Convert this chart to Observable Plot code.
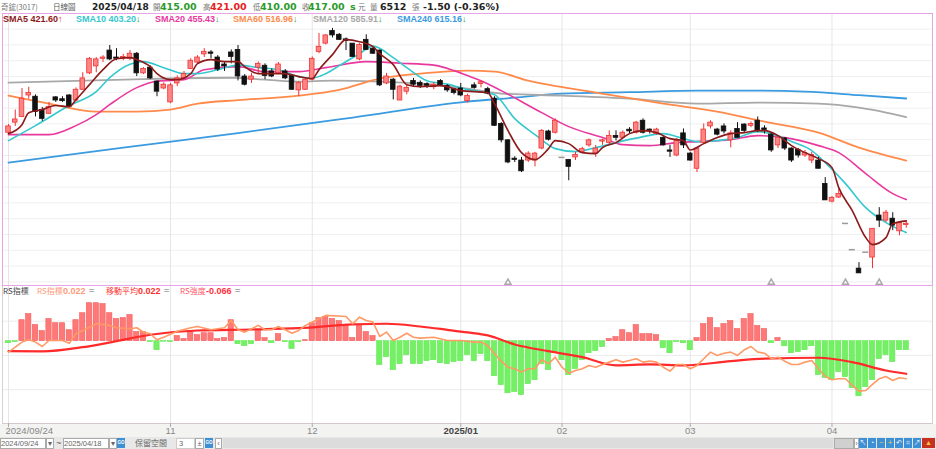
<!DOCTYPE html>
<html>
<head>
<meta charset="utf-8">
<script src="https://cdn.jsdelivr.net/npm/d3@7"></script>
<script src="https://cdn.jsdelivr.net/npm/@observablehq/plot@0.6"></script>
<style>
  body { margin: 0; width: 936px; height: 449px; overflow: hidden; position: relative; background: #fff;
         font-family: "Liberation Sans", "Noto Sans CJK TC", sans-serif; }
  .a { position: absolute; white-space: nowrap; line-height: 12px; }
  .hd { top: 1px; font-family: "DejaVu Sans", sans-serif; font-size: 9.5px; font-weight: bold; }
  .cj { font-family: "Noto Sans CJK TC", sans-serif; font-size: 7.5px; font-weight: normal; color: #777; }
  .lg { top: 13px; font-size: 9px; font-weight: bold; }
  .rs { top: 285px; font-size: 9px; }
  .g { color: #2a9a2a; }
  .r { color: #e82020; }
  .k { color: #222; }
  .eq { color: #aaa; font-weight: bold; }
  #mainBox { position: absolute; left: 2px; top: 13px; width: 929px; height: 271px; border: 1px solid #e6a6e6; }
  #lowBox { position: absolute; left: 2px; top: 286px; width: 929px; height: 137px;
            border-left: 1px solid #d6d0d0; border-right: 1px solid #d6d0d0; border-bottom: 1px solid #d6c8c8; }
  #axisBg { position: absolute; left: 0; top: 424px; width: 936px; height: 13px; background: #f3f3f1; }
  #low { position: absolute; left: 3px; top: 286px; }
  #bar { position: absolute; left: 0; top: 437px; width: 936px; height: 12px; background: #e8e8e8; font-size: 8px; overflow: hidden; }
  .box { position: absolute; top: 1px; height: 9px; background: #fff; border: 1px solid #aaa; color: #666;
         line-height: 9px; font-size: 7.5px; overflow: hidden; }
  .btn { position: absolute; top: 1px; width: 8px; height: 10px; background: #3d8fd6; color: #fff;
         font-size: 7px; line-height: 10px; text-align: center; overflow: hidden; }
  .go { font-size: 4.5px; font-weight: bold; }
</style>
</head>
<body>
<div class="a hd cj" style="left:1px">奇鋐(3017)</div>
<div class="a hd cj" style="left:53px;color:#555">日線圖</div>
<div class="a hd k" style="left:92px;font-size:9px">2025/04/18</div>
<div class="a hd cj" style="left:153px">開</div>
<div class="a hd g" style="left:160px">415.00</div>
<div class="a hd cj" style="left:203px">高</div>
<div class="a hd r" style="left:210px">421.00</div>
<div class="a hd cj" style="left:253px">低</div>
<div class="a hd g" style="left:260px">410.00</div>
<div class="a hd cj" style="left:302px">收</div>
<div class="a hd g" style="left:308px">417.00</div>
<div class="a hd g" style="left:350px">s</div>
<div class="a hd cj" style="left:358px">元</div>
<div class="a hd cj" style="left:370px">量</div>
<div class="a hd k" style="left:380px">6512</div>
<div class="a hd cj" style="left:412px">張</div>
<div class="a hd k" style="left:423px">-1.50 (-0.36%)</div>

<div id="mainBox"></div>
<div id="axisBg"></div>
<div id="lowBox"></div>
<div id="low"></div>

<div class="a lg" style="left:3px;color:#8b1a1a">SMA5 421.60<span class="r">↑</span></div>
<div class="a lg" style="left:76px;color:#35c8cf">SMA10 403.20<span class="g">↓</span></div>
<div class="a lg" style="left:155px;color:#e8389e">SMA20 455.43<span class="g">↓</span></div>
<div class="a lg" style="left:233px;color:#ff8a4a">SMA60 516.96<span class="g">↓</span></div>
<div class="a lg" style="left:313px;color:#a8a8a8">SMA120 585.91<span class="g">↓</span></div>
<div class="a lg" style="left:397px;color:#3a9be0">SMA240 615.16<span class="g">↓</span></div>

<div class="a rs cj" style="left:3px;color:#444;font-size:8px">RS指標</div>
<div class="a rs cj" style="left:37px;color:#ff9a7a;font-size:8px">RS指標</div>
<div class="a rs" style="left:63px;color:#ff9a7a;font-weight:bold">0.022</div>
<div class="a rs eq" style="left:89px">=</div>
<div class="a rs cj" style="left:106px;color:#ff3030;font-size:8px">移動平均</div>
<div class="a rs" style="left:138px;color:#ff3030;font-weight:bold">0.022</div>
<div class="a rs eq" style="left:164px">=</div>
<div class="a rs cj" style="left:180px;color:#ff5a6a;font-size:8px">RS強度</div>
<div class="a rs" style="left:206px;color:#ff3040;font-weight:bold">-0.066</div>
<div class="a rs eq" style="left:235px">=</div>

<div id="bar">
  <div class="box" style="left:0;width:44px">2024/09/24</div>
  <div class="box" style="left:46px;width:6px;text-align:center">▾</div>
  <div class="a" style="left:56px;top:0;color:#555;font-size:9px">~</div>
  <div class="box" style="left:63px;width:44px">2025/04/18</div>
  <div class="box" style="left:109px;width:6px;text-align:center">▾</div>
  <div class="btn go" style="left:117px">GO</div>
  <div class="a cj" style="left:135px;top:0;font-size:8px;color:#666">保留空間</div>
  <div class="box" style="left:176px;width:17px;border-color:#ccc">&nbsp;3</div>
  <div class="box" style="left:195px;width:7px;text-align:center">±</div>
  <div class="btn go" style="left:205px">GO</div>
  <div class="box" style="left:215px;width:5px;text-align:center">‹</div>
  <div class="a" style="left:223px;top:1px;width:610px;height:10px;background:#dcdcdc"></div>
  <div class="box" style="left:834px;width:18px;background:#d0d0d0"></div>
  <div class="box" style="left:854px;width:3px;text-align:center">›</div>
  <div class="btn" style="left:859px">↖</div>
  <div class="btn" style="left:868px">◔</div>
  <div class="btn" style="left:877px;color:#ffd040">−</div>
  <div class="btn" style="left:886px;color:#ffd040">+</div>
  <div class="btn" style="left:895px">↶</div>
  <div class="btn" style="left:904px">⌗</div>
  <div class="btn" style="left:913px">↗</div>
  <div class="btn" style="left:922px;width:13px;background:#c83020;color:#ffd040">▲</div>
</div>

<script>
// 奇鋐(3017) 日線 2024/09/24 ~ 2025/04/18
const opens = [561,577,586,620,618,597,591,617,614,620,
  612,629,655,666,678,691,680,678,678,686,
  655,664,642,631,609,639,647,662,672,685,
  688,680,669,688,692,650,645,664,667,658,
  655,658,651,628,629,645,689,702,722,716,
  708,702,677,708,694,691,639,645,612,626,
  643,640,637,633,643,635,630,631,611,636,
  638,630,615,575,549,520,517,517,517,536,
  563,561,522,518,522,530,541,528,547,545,
  556,553,565,561,580,566,559,553,533,525,
  560,528,504,545,571,566,571,549,567,574,
  572,580,567,558,541,552,536,534,525,517,
  517,480,452,458.5,417.5,376,346,372,363.5,430,
  422,425,405,415];
const highs = [574,597,631,633,621,601,609,618,618,621,
  632,656,680,680,683,699,694,685,691,688,
  664,667,643,640,639,651,658,678,683,694,
  691,683,672,692,699,653,655,673,670,662,
  672,661,653,642,648,681,718,716,726,718,
  711,702,702,716,697,692,655,647,636,636,
  647,643,640,640,645,637,631,639,622,640,
  643,633,618,577,550,523,522,531,530,566,
  565,583,522,518,530,538,551,541,551,564,
  564,564,569,579,583,567,568,555,541,552,
  567,530,537,575,580,568,575,564,577,575,
  578,586,572,560,555,553,537,536,533,530,
  522,490,460,472.5,417.5,376,355.5,372,409,442.5,
  438,434.5,420,421];
const lows = [558,571,585,614,586,579,590,609,609,601,
  610,628,653,656,672,675,675,675,675,650,
  653,645,618,629,607,634,645,661,670,680,
  678,658,658,670,643,635,639,655,645,648,
  653,645,628,618,628,643,686,700,711,707,
  691,680,675,691,685,634,637,613,612,621,
  634,631,631,629,634,625,621,618,608,630,
  632,621,571,545,512,514,498,514,507,534,
  548,559,522,485,517,528,538,522,541,541,
  548,552,559,559,559,559,557,540,522,523,
  536,516,498,544,567,556,559,537,553,561,
  569,561,559,530,536,533,514,521,522,512,
  504,454,450,457,417.5,376,338.5,372,346,411,
  419,406,398,410];
const closes = [571,582,615,624,594,583,602,612,611,602,
  629,647,678,677,680,677,678,681,686,655,
  662,647,626,637,636,647,654,675,680,689,
  686,661,666,681,650,637,650,670,651,650,
  669,647,629,640,645,678,697,715,715,708,
  707,681,700,692,686,636,650,629,634,632,
  637,635,636,637,636,628,624,620,619,632,
  641,623,572,549,514,518,500,528,528,564,
  550,580,522,507,526,535,549,536,549,556,
  553,561,564,577,561,564,566,541,531,548,
  541,517,536,566,577,558,563,560,553,564,
  575,564,566,533,553,536,517,525,529,526,
  504,454,458,464,417.5,376,338.5,372,409,422,
  434.5,414,418.5,417];

// month ticks (candle index) and their labels
const tickIdx = [0, 24, 45, 67, 82, 101, 122];
const tickLabels = ["2024/09/24", "11", "12", "2025/01", "02", "03", "04"];

// moving averages: [candle index, price]
const sma5 = [[0,559.6],[2,573.8],[3,592.8],[5,597.6],[7,604],[9,602.3],[10,613.4],[12,637.1],[14,660.8],[16,678.2],
  [18,679.8],[19,676.7],[21,665.6],[22,654.5],[24,645],[25,645],[27,654.5],[28,670.3],[30,676.7],[32,673.5],
  [34,673.5],[35,665.6],[37,654.5],[39,654.5],[41,654.5],[43,649.8],[45,646.6],[46,660.8],[48,684.6],[50,708.3],
  [52,705.1],[54,697.2],[55,686.2],[57,668.8],[59,637.1],[61,634],[64,635.5],[66,630.8],[67,627.6],[71,624.5],
  [72,607],[74,564.3],[76,529.5],[78,518.5],[80,535.9],[81,548.5],[83,543.8],[85,529.5],[87,528],[88,537.4],
  [90,545.4],[92,559.6],[94,564.3],[96,561.2],[98,551.7],[100,548.5],[101,533.7],[103,543.8],[105,553.3],[107,559.6],
  [109,561.2],[111,564.3],[112,564.3],[114,556.4],[116,540.6],[118,529.5],[120,520],[122,505.8],[123,474.2],[125,437.8],
  [127,395.1],[128,384],[130,395.1],[131,417.2],[133,421.6]];
const sma10 = [[0,548.5],[4,572.3],[9,604],[13,626],[15,648.2],[18,669.5],[20,673.5],[23,664],[26,654.5],[28,654.5],
  [31,660.8],[34,668],[37,664],[40,660.8],[43,649.8],[45,647.4],[47,654.5],[49,667.2],[52,686],[54,698],
  [57,679.8],[59,664],[62,643.4],[65,637.9],[68,629.2],[72,621.3],[75,583.3],[78,558],[81,535.9],[84,531.1],
  [87,537.4],[90,545.4],[93,552.5],[97,559.6],[100,551.7],[102,547],[105,548.5],[108,553.3],[111,562.8],[113,559.6],
  [116,547],[119,532.7],[121,513.7],[124,480.5],[127,442.5],[130,418.8],[133,403.2]];
const sma20 = [[0,558],[6,558],[10,572.3],[13,589.7],[15,605.5],[19,632.4],[22,642.6],[26,645],[29,660.8],[34,665.6],
  [38,657.7],[43,657.7],[47,664],[53,673.5],[58,671],[63,668],[66,659.3],[68,651.4],[70,643.4],[73,627.6],
  [79,592.8],[83,570.7],[88,553.3],[91,542.2],[95,540.6],[99,545.4],[102,547],[107,550],[111,556.4],[115,553.3],
  [120,540.6],[123,529.5],[127,496.3],[131,464.7],[133,455.43]];
const sma60 = [[0,619.7],[6,607],[13,594.4],[19,594.4],[24,597.6],[28,607],[34,612.6],[43,619.7],[49,629],[55,646.6],
  [61,654.5],[68,659.3],[72,657.7],[77,643.4],[87,624.5],[97,607],[105,594.4],[112,578.6],[120,561.2],[126,537.5],
  [133,516.96]];
const sma120 = [[0,640.3],[10,643],[20,646],[33,648],[43,642],[48,643.4],[55,642],[63,637.1],[68,630.8],[73,623],
  [82,619.7],[92,615],[102,607],[111,608.6],[120,607],[126,600.7],[130,593],[133,585.91]];
const sma240 = [[0,513.7],[17,537.4],[34,560.4],[51,585],[68,610.2],[75,616.5],[82,622.9],[92,625.2],[102,627.6],[110,627.6],
  [118,626],[126,620.5],[133,615.16]];

// small triangles under the price panel
const markIdx = [74, 113, 124, 129];

// RS panel
const strength = [-0.015,-0.007,0.153,0.197,0.117,0.073,0.161,0.131,0.131,0.080,
  0.153,0.204,0.277,0.277,0.270,0.204,0.161,0.168,0.190,0.066,
  0.066,-0.007,-0.066,-0.004,-0.007,0.037,0.015,0.073,0.044,0.058,
  0.058,0.015,0.022,0.153,-0.022,-0.037,-0.022,0.080,0.022,-0.015,
  0.051,-0.007,-0.058,-0.007,0.007,0.131,0.168,0.175,0.161,0.146,
  0.117,0.022,0.117,0.066,0.037,-0.175,-0.117,-0.212,-0.168,-0.102,
  -0.168,-0.168,-0.146,-0.139,-0.161,-0.168,-0.153,-0.146,-0.102,-0.146,
  -0.095,-0.146,-0.256,-0.321,-0.380,-0.372,-0.394,-0.314,-0.285,-0.168,
  -0.212,-0.080,-0.139,-0.248,-0.204,-0.139,-0.088,-0.073,-0.044,0.015,
  0.029,0.080,0.058,0.117,0.051,0.051,0.044,-0.051,-0.088,-0.007,
  -0.015,-0.066,0.022,0.124,0.168,0.095,0.124,0.146,0.088,0.161,
  0.197,0.110,0.088,-0.015,0.022,-0.037,-0.088,-0.080,-0.066,-0.037,
  -0.248,-0.270,-0.285,-0.226,-0.263,-0.343,-0.402,-0.336,-0.285,-0.131,
  -0.102,-0.153,-0.066,-0.066];
const rsLine = [[0,-0.080],[2,-0.007],[3,0.012],[4,-0.007],[5,-0.039],[6,0.005],[8,0.005],[9,-0.015],[10,0.054],[12,0.102],
  [13,0.127],[15,0.115],[16,0.098],[17,0.094],[18,0.091],[19,0.098],[20,0.066],[21,0.054],[22,0.010],[23,0.029],
  [25,0.073],[27,0.098],[28,0.107],[30,0.083],[32,0.098],[33,0.151],[34,0.083],[35,0.066],[37,0.115],[38,0.083],
  [39,0.083],[40,0.107],[41,0.083],[42,0.058],[43,0.078],[44,0.115],[46,0.164],[47,0.188],[50,0.180],[51,0.127],
  [52,0.175],[53,0.151],[54,0.139],[55,0.034],[56,0.066],[57,0.005],[58,0.029],[59,0.058],[60,0.029],[61,0.022],
  [63,0.029],[65,0.005],[67,0.005],[69,-0.007],[70,-0.007],[71,-0.031],[72,-0.092],[73,-0.146],[74,-0.190],[75,-0.201],
  [76,-0.226],[77,-0.201],[78,-0.201],[79,-0.136],[80,-0.165],[81,-0.117],[82,-0.190],[83,-0.234],[84,-0.214],[85,-0.201],
  [86,-0.177],[87,-0.190],[88,-0.170],[89,-0.153],[90,-0.136],[91,-0.153],[92,-0.141],[93,-0.128],[94,-0.153],[95,-0.146],
  [96,-0.153],[97,-0.190],[98,-0.219],[99,-0.170],[100,-0.170],[101,-0.201],[102,-0.177],[103,-0.128],[104,-0.080],[105,-0.104],
  [106,-0.088],[107,-0.080],[108,-0.104],[109,-0.063],[110,-0.039],[111,-0.080],[112,-0.088],[113,-0.128],[114,-0.117],[115,-0.146],
  [116,-0.170],[117,-0.170],[118,-0.153],[119,-0.141],[120,-0.201],[121,-0.258],[122,-0.282],[123,-0.274],[124,-0.274],[125,-0.323],
  [126,-0.365],[127,-0.360],[128,-0.316],[129,-0.274],[130,-0.258],[131,-0.287],[132,-0.267],[133,-0.274]];
const rsMa = [[0,-0.073],[5,-0.075],[11,-0.044],[16,0],[21,0.047],[28,0.078],[36,0.085],[43,0.095],[51,0.122],[56,0.127],
  [61,0.107],[65,0.083],[68,0.064],[71,0.042],[75,-0.024],[80,-0.073],[85,-0.117],[90,-0.177],[95,-0.170],[100,-0.177],
  [107,-0.146],[112,-0.128],[120,-0.121],[125,-0.153],[130,-0.214],[133,-0.238]];
const rsGrid = [0.146, -0.104, -0.354];

const candles = opens.map((o, i) => ({i, o, h: highs[i], l: lows[i], c: closes[i]}));
const traded = candles.filter(d => d.h > d.l);
const flat = candles.filter(d => d.h === d.l);
const up = d => d.c >= d.o;
const xDomain = [-0.741, 136.889];

const maLine = (data, color, w) =>
  Plot.line(data, {x: d => d[0], y: d => d[1], stroke: color, strokeWidth: w, curve: "monotone-x"});

const main = Plot.plot({
  width: 929,
  height: 271,
  margin: 0,
  x: {domain: xDomain, axis: null},
  y: {domain: [319.3, 748.1], axis: null},
  style: {background: "transparent", overflow: "visible"},
  marks: [
    Plot.ruleY(d3.range(325, 750, 25), {stroke: "#efefef"}),
    Plot.ruleX(tickIdx, {stroke: "#e6e6e6"}),
    maLine(sma240, "#3a9be0", 1.8),
    maLine(sma120, "#a8a8a8", 1.8),
    maLine(sma60, "#ff8a4a", 1.8),
    maLine(sma20, "#e8389e", 1.6),
    maLine(sma10, "#35c8cf", 1.6),
    Plot.ruleX(traded, {x: "i", y1: "l", y2: "h", stroke: d => up(d) ? "#f03232" : "#111111", strokeWidth: 1}),
    Plot.rect(traded, {
      x1: d => d.i - 0.34, x2: d => d.i + 0.34,
      y1: d => Math.min(d.o, d.c) - (Math.abs(d.o - d.c) < 1.5 ? 0.8 : 0),
      y2: d => Math.max(d.o, d.c) + (Math.abs(d.o - d.c) < 1.5 ? 0.8 : 0),
      fill: d => up(d) ? "#ff8484" : "#111111",
      stroke: d => up(d) ? "#f03232" : "#111111",
      strokeWidth: 0.8
    }),
    Plot.ruleY(flat, {y: "c", x1: d => d.i - 0.45, x2: d => d.i + 0.45, stroke: "#9a9a9a", strokeWidth: 1.5}),
    maLine(sma5, "#8b1a1a", 1.6),
    Plot.dot(markIdx, {x: d => d, frameAnchor: "bottom", dy: -3, symbol: "triangle", r: 2.2, stroke: "#aaaaaa", fill: "white"})
  ]
});
document.getElementById("mainBox").append(main);

const labelRows = tickIdx.map((i, k) => ({i, t: tickLabels[k]}));
const axisText = {x: "i", text: "t", frameAnchor: "bottom", dy: 10, fontSize: 9.5, fontFamily: "Liberation Sans"};

const lower = Plot.plot({
  width: 929,
  height: 152,
  marginTop: 0, marginLeft: 0, marginRight: 0, marginBottom: 15,
  x: {domain: xDomain, axis: null, label: null},
  y: {domain: [-0.601, 0.399], axis: null, label: null},
  style: {background: "transparent", overflow: "visible"},
  marks: [
    Plot.ruleY(rsGrid, {stroke: "#ececec"}),
    Plot.ruleX(tickIdx, {stroke: "#e6e6e6"}),
    Plot.rect(strength.map((v, i) => ({i, v})), {
      x1: d => d.i - 0.39, x2: d => d.i + 0.39, y1: 0, y2: "v",
      fill: d => d.v >= 0 ? "#ff7878" : "#74f064",
      stroke: d => d.v >= 0 ? "#f05a5a" : "#66e656",
      strokeWidth: 0.6
    }),
    Plot.line(rsMa, {x: d => d[0], y: d => d[1], stroke: "#ff2a2a", strokeWidth: 2.2, curve: "monotone-x"}),
    Plot.line(rsLine, {x: d => d[0], y: d => d[1], stroke: "#ff9a66", strokeWidth: 1.6}),
    Plot.axisX(tickIdx, {anchor: "bottom", tickSize: 4, tickFormat: () => "", label: null, stroke: "#aaaaaa"}),
    Plot.text(labelRows.slice(0, 1), {...axisText, dx: -3, textAnchor: "start", fill: "#888"}),
    Plot.text(labelRows.filter(d => d.i > 0 && d.t.length < 3), {...axisText, fill: "#888"}),
    Plot.text(labelRows.filter(d => d.i > 0 && d.t.length > 3), {...axisText, fill: "#444", fontWeight: "bold"})
  ]
});
document.getElementById("low").append(lower);
</script>
</body>
</html>
